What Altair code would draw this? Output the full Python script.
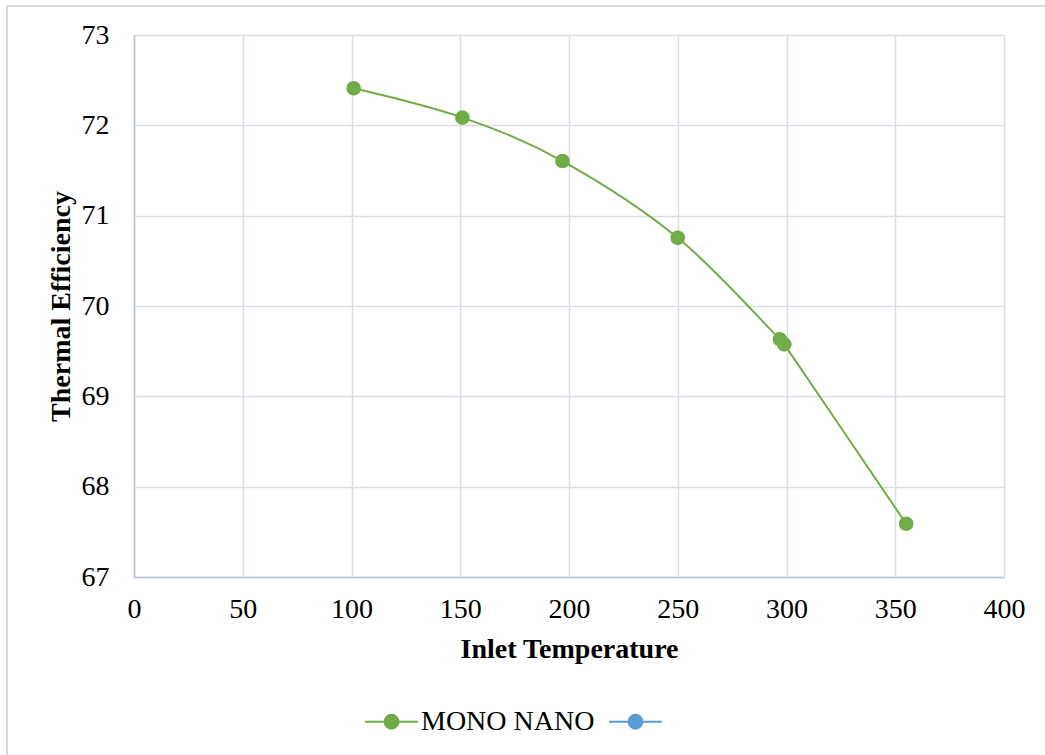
import altair as alt
import pandas as pd

# Data
inlet_temperature = [101, 151, 197, 250, 297, 299, 355]
thermal_efficiency = [72.41, 72.085, 71.605, 70.755, 69.63, 69.575, 67.59]
series_names = ["MONO NANO", " "]
series_colors = ["#70AD47", "#5B9BD5"]

df = pd.DataFrame({
    "Inlet Temperature": inlet_temperature,
    "Thermal Efficiency": thermal_efficiency,
    "series": ["MONO NANO"] * len(inlet_temperature),
})

FONT = "Liberation Serif"

x_enc = alt.X(
    "Inlet Temperature:Q",
    scale=alt.Scale(domain=[0, 400], nice=False, zero=False),
    axis=alt.Axis(values=list(range(0, 401, 50)), title="Inlet Temperature",
                  titlePadding=12, labelPadding=18, labelFlush=False),
)
y_enc = alt.Y(
    "Thermal Efficiency:Q",
    scale=alt.Scale(domain=[67, 73], nice=False, zero=False),
    axis=alt.Axis(values=list(range(67, 74)), title="Thermal Efficiency",
                  titlePadding=6, labelPadding=25, labelFlush=False),
)

legend_path = ("M-1,0H-0.26 M0.26,0H1 M0.26,0A0.26,0.26 0 1,1 -0.26,0"
               "A0.26,0.26 0 1,1 0.26,0Z")

color_scale = alt.Scale(domain=series_names, range=series_colors)

line = alt.Chart(df).mark_line(
    interpolate="cardinal", tension=0, strokeWidth=2, color="#70AD47"
).encode(x=x_enc, y=y_enc)

legend = alt.Legend(
    title=None, orient="none", direction="horizontal",
    legendX=230, legendY=659, symbolType=legend_path, symbolSize=2800,
    symbolStrokeWidth=2, labelFont=FONT, labelFontSize=28, labelColor="#000000",
    labelOffset=2, labelLimit=400, columnPadding=10, padding=0,
)

points = alt.Chart(df).mark_point(filled=True, size=160, opacity=1).encode(
    x=x_enc, y=y_enc,
    fill=alt.Fill("series:N", scale=color_scale, legend=legend),
    stroke=alt.Stroke("series:N", scale=color_scale, legend=legend),
)

frame = alt.Chart(df).mark_rect(
    fill=None, stroke="#d9d9d9", strokeWidth=1.5
).encode(
    x=alt.value(-127), x2=alt.value(950), y=alt.value(-29), y2=alt.value(760)
)

chart = alt.layer(frame, line, points).properties(
    width=870, height=542,
    padding={"left": 134, "top": 35, "right": 41, "bottom": 178},
    autosize=alt.AutoSizeParams(type="none"),
    background="white",
).configure_view(
    stroke=None
).configure_axis(
    grid=True, gridColor="#d9dde6", gridWidth=1.5,
    domainColor="#b8c2d2", domainWidth=1.5,
    ticks=False,
    labelFont=FONT, labelFontSize=28, labelColor="#000000",
    titleFont=FONT, titleFontSize=28, titleFontWeight="bold", titleColor="#000000",
)

chart.save("out.html", embed_options={"renderer": "svg", "actions": False})
